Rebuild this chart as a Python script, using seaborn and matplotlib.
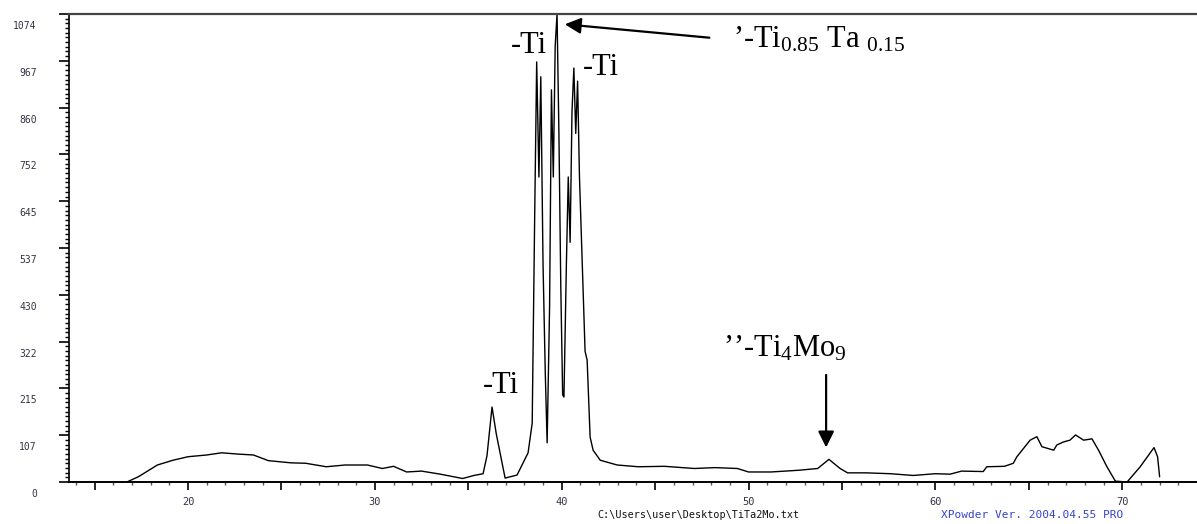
import numpy as np
import pandas as pd
import matplotlib
matplotlib.use("Agg")
import matplotlib.pyplot as plt
from matplotlib.transforms import ScaledTranslation
import seaborn as sns

# ---- data (2-theta in degrees, intensity in counts) ----
two_theta = [16.73, 17.34, 18.36, 19.2, 20.0, 21.0, 21.8, 22.7, 23.5, 24.3, 25.5, 26.3,
             27.4, 28.4, 29.6, 30.4, 31.0, 31.7, 32.5, 33.5, 34.7, 35.3, 35.79, 36.0,
             36.27, 36.5, 36.97, 37.61, 38.2, 38.42,
             38.55, 38.66, 38.78, 38.88, 39.0, 39.12, 39.22, 39.35, 39.45, 39.55, 39.65,
             39.75, 39.85, 39.95, 40.05, 40.12, 40.25, 40.35, 40.45, 40.55, 40.65, 40.75,
             40.85, 40.95, 41.1, 41.25, 41.36, 41.52, 41.68, 42.06, 42.97, 44.1, 45.5,
             47.1, 48.2, 49.4, 50.0, 51.2, 52.7, 53.7, 54.3, 54.9, 55.3, 56.3, 57.6,
             58.8, 60.0, 60.79, 61.4, 62.56, 62.75, 63.7, 64.17, 64.36, 65.07, 65.43,
             65.7, 66.33, 66.5, 66.86, 67.2, 67.5, 67.93, 68.38, 68.73, 69.18, 69.63,
             70.26, 70.96, 71.7, 71.89, 72.0]
intensity = [0, 12, 39, 50, 58, 62, 67, 64, 62, 49, 44, 43,
             35, 39, 39, 31, 36, 23, 25, 18, 8, 15, 19, 60,
             172, 110, 9, 16, 67, 135,
             600, 964, 700, 930, 500, 250, 90, 400, 900, 700, 1000,
             1074, 800, 450, 200, 195, 500, 700, 550, 850, 950, 800,
             920, 700, 500, 300, 280, 103, 73, 50, 39, 35, 36,
             31, 33, 31, 23, 23, 27, 31, 52, 31, 21, 21, 19,
             15, 19, 18, 25, 24, 35, 36, 43, 58, 96, 104,
             81, 73, 85, 92, 96, 108, 96, 99, 73, 35, 2,
             0, 35, 79, 58, 12]

y_tick_values = [0, 107.4, 214.8, 322.2, 429.6, 537.0, 644.4, 751.8, 859.2, 966.6, 1074.0]
y_tick_labels = ["0", "107", "215", "322", "430", "537", "645", "752", "860", "967", "1074"]
x_major_ticks = [15, 20, 25, 30, 35, 40, 45, 50, 55, 60, 65, 70]
x_tick_labels = ["", "20", "", "30", "", "40", "", "50", "", "60", "", "70"]

df = pd.DataFrame({"two_theta": two_theta, "intensity": intensity})

sns.set_theme(style="ticks")
plt.rcParams["font.family"] = ["DejaVu Sans"]
plt.rcParams["mathtext.fontset"] = "custom"
plt.rcParams["mathtext.rm"] = "Liberation Serif"
plt.rcParams["mathtext.it"] = "Liberation Serif"

fig = plt.figure(figsize=(11.97, 5.24), dpi=100)
ax = fig.add_axes([69 / 1197, 42 / 524, 1 - 69 / 1197, (482 - 14) / 524])

sns.lineplot(data=df, x="two_theta", y="intensity", ax=ax, color="black",
             linewidth=1.0, estimator=None, sort=False)

ax.set_xlim(13.63, 74.0)
ax.set_ylim(0, 1074)
ax.set_xlabel("")
ax.set_ylabel("")

ax.spines["right"].set_visible(False)
ax.spines["top"].set_visible(True)
ax.spines["top"].set_color("#444444")
ax.spines["top"].set_linewidth(1.6)
ax.spines["left"].set_color("black")
ax.spines["left"].set_linewidth(1.2)
ax.spines["bottom"].set_color("black")
ax.spines["bottom"].set_linewidth(1.4)

ax.set_yticks(y_tick_values)
ax.set_yticklabels(y_tick_labels)
ax.set_yticks(np.arange(0, 1074.1, 10.74), minor=True)
ax.set_xticks(x_major_ticks)
ax.set_xticklabels(x_tick_labels)
ax.set_xticks(np.arange(14, 74, 1), minor=True)

mono = "DejaVu Sans Mono"
ax.tick_params(which="both", left=True, bottom=True, top=False, right=False)
ax.tick_params(axis="y", which="major", direction="out", length=7.2, width=1.2,
               color="black", labelsize=7, labelcolor="#333344", pad=16)
ax.tick_params(axis="y", which="minor", direction="out", length=2.9, width=1.0, color="black")
ax.tick_params(axis="x", which="major", direction="out", length=5.8, width=1.2,
               color="black", labelsize=7.5, labelcolor="#333344", pad=5)
ax.tick_params(axis="x", which="minor", direction="out", length=2.2, width=1.0, color="#555555")
for lab in ax.get_yticklabels() + ax.get_xticklabels():
    lab.set_fontfamily(mono)
for lab in ax.get_yticklabels():
    lab.set_transform(lab.get_transform() + ScaledTranslation(0, -11 / 100, fig.dpi_scale_trans))

serif = "Liberation Serif"
fs = 22
ax.text(37.29, 985, "-Ti", fontsize=fs, family=serif, color="black", ha="left", va="baseline")
ax.text(41.15, 934, "-Ti", fontsize=fs, family=serif, color="black", ha="left", va="baseline")
ax.text(35.79, 204, "-Ti", fontsize=fs, family=serif, color="black", ha="left", va="baseline")
ax.text(49.18, 996, r"’-Ti$_{0.85}$ Ta $_{0.15}$", fontsize=fs, family=serif, color="black",
        ha="left", va="baseline")
ax.text(48.64, 287, r"’’-Ti$_{4}$Mo$_{9}$", fontsize=fs, family=serif, color="black",
        ha="left", va="baseline")

ax.annotate("", xy=(40.02, 1051), xytext=(48.05, 1019),
            arrowprops=dict(arrowstyle="-|>", color="black", lw=1.6, mutation_scale=24))
ax.annotate("", xy=(54.15, 73), xytext=(54.15, 252),
            arrowprops=dict(arrowstyle="-|>", color="black", lw=1.6, mutation_scale=24))

fig.text(698 / 1197, 1 - 515 / 524, r"C:\Users\user\Desktop\TiTa2Mo.txt", fontsize=7.3,
         family=mono, color="#111111", ha="center", va="center")
fig.text(1032 / 1197, 1 - 515 / 524, "XPowder Ver. 2004.04.55 PRO", fontsize=8,
         family=mono, color="#3344cc", ha="center", va="center")

fig.savefig("out.png", dpi=100)
